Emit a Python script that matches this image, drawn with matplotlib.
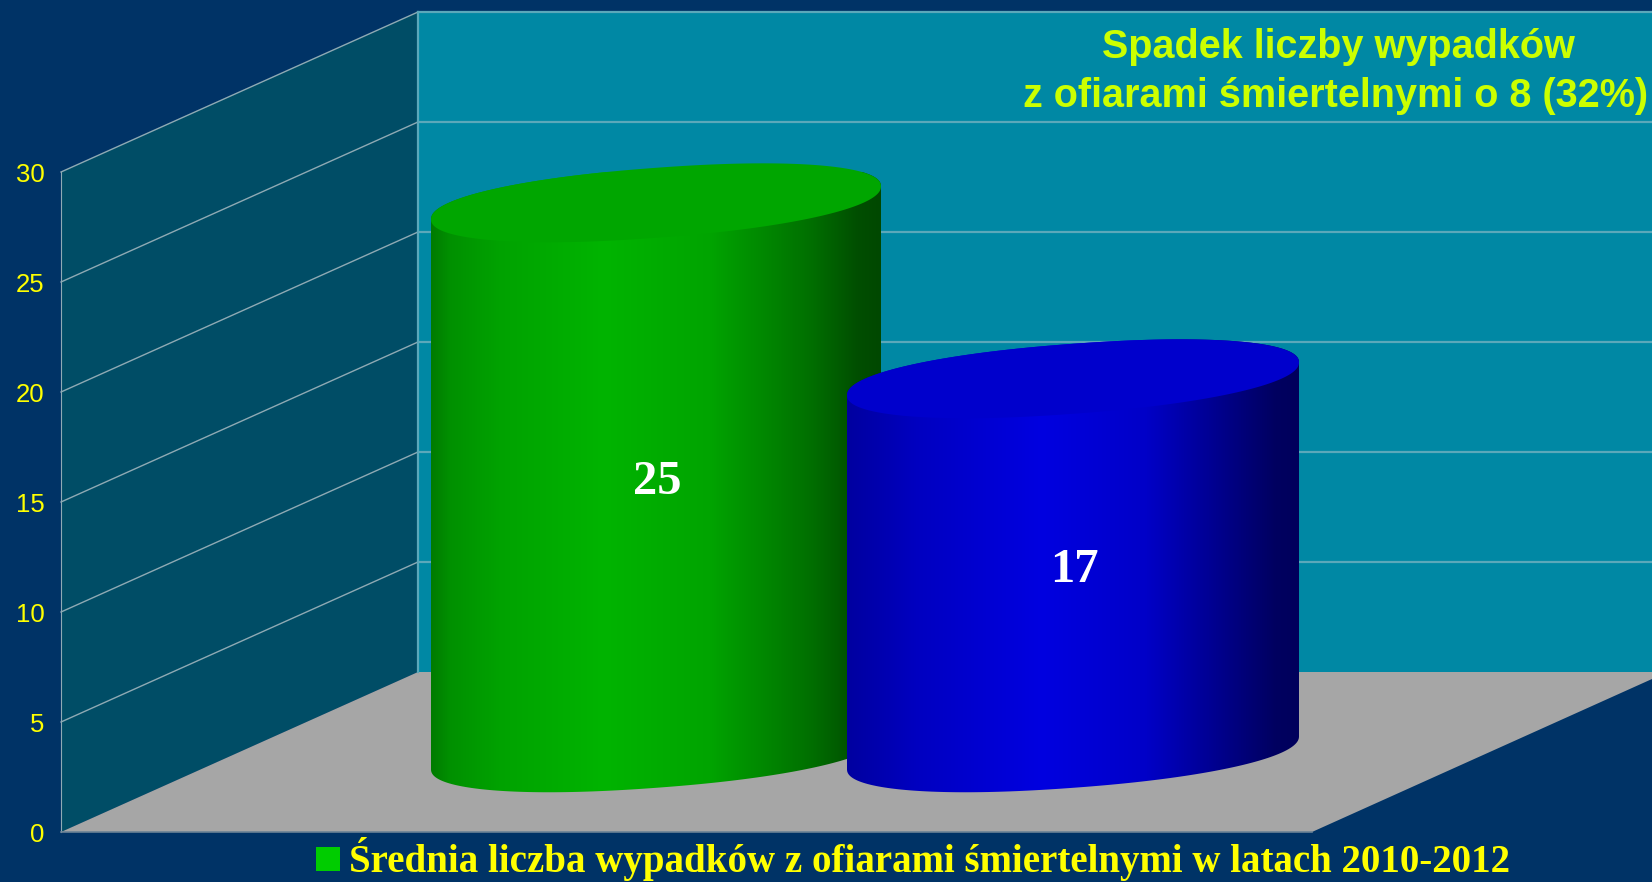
import numpy as np
from matplotlib import pyplot as plt
from matplotlib.colors import LinearSegmentedColormap
from matplotlib.patches import Polygon, Rectangle

# chart values
categories = ['2010-2012', '2013']
values = [25, 17]
y_ticks = [0, 5, 10, 15, 20, 25, 30]
legend_text = 'Średnia liczba wypadków z ofiarami śmiertelnymi w latach 2010-2012'
title_lines = ['Spadek liczby wypadków', 'z ofiarami śmiertelnymi o 8 (32%)']

WIDTH, HEIGHT = 1652, 882
LEFT, BOTTOM, TOP = 61, 832, 172  # wall front edge, in pixels
DEPTH_X = 357                     # pixels the back wall sits to the right
DEPTH_Y = 160 / 22                # same, upwards, in value units
FLOOR_RIGHT = 1312

BG = '#003366'
BACK_WALL = '#0088A4'
SIDE_WALL = '#004D66'
FLOOR = '#A6A6A6'
YELLOW = '#FFFF00'

# x is in pixels (only y is a value scale), one cylinder per category
centers = [656, 1073]
half_width = [225, 226]
base_level = 3.6      # centre of the bottom ellipse, value units
ell_b = 35 / 22
ell_s = 16.5 / 22
ell_power = 0.92      # below 1 gives the fuller ends of the original lids
top_colors = ['#00A600', '#0000CC']
side_colors = [
    ['#007C00', '#009000', '#00A200', '#00B400', '#00A400', '#006E00', '#004E00', '#004800'],
    ['#0000A0', '#0000A8', '#0000C0', '#0000E0', '#0000C8', '#000078', '#000060', '#00005C'],
    ]
side_stops = [
    [0, 0.04, 0.15, 0.385, 0.62, 0.85, 0.95, 1],
    [0, 0.04, 0.15, 0.43, 0.66, 0.88, 0.95, 1],
    ]

fig = plt.figure(figsize=(WIDTH / 100, HEIGHT / 100), dpi=100, facecolor=BG)
ax = fig.add_axes([
    LEFT / WIDTH, (HEIGHT - BOTTOM) / HEIGHT,
    (WIDTH - LEFT) / WIDTH, (BOTTOM - TOP) / HEIGHT
    ])
ax.patch.set_visible(False)
for spine in ax.spines.values():
    spine.set_visible(False)
ax.set_xlim(LEFT, WIDTH)
ax.set_ylim(0, 30)
ax.set_xticks([])
ax.set_yticks(y_ticks)
ax.tick_params(axis='y', length=0, pad=12, labelcolor=YELLOW, labelsize=18.5)
for label in ax.get_yticklabels():
    label.set_fontfamily('Liberation Sans')

back_x = LEFT + DEPTH_X
ax.add_patch(Polygon(
    [(back_x, DEPTH_Y), (WIDTH, DEPTH_Y), (WIDTH, 30 + DEPTH_Y), (back_x, 30 + DEPTH_Y)],
    fc=BACK_WALL, ec='none', clip_on=False, zorder=1
    ))
ax.add_patch(Polygon(
    [(LEFT, 0), (back_x, DEPTH_Y), (back_x, 30 + DEPTH_Y), (LEFT, 30)],
    fc=SIDE_WALL, ec='none', clip_on=False, zorder=1
    ))
ax.add_patch(Polygon(
    [(LEFT, 0), (back_x, DEPTH_Y), (WIDTH, DEPTH_Y), (WIDTH, DEPTH_Y - 7 / 22), (FLOOR_RIGHT, 0)],
    fc=FLOOR, ec='none', clip_on=False, zorder=1
    ))

# grid
for tick in y_ticks:
    if tick > 0:
        ax.plot([back_x, WIDTH], [tick + DEPTH_Y] * 2, color='#5BA8BA', lw=1.6,
                clip_on=False, zorder=2)
        ax.plot([LEFT, back_x], [tick, tick + DEPTH_Y], color='#8FAAB4', lw=1,
                clip_on=False, zorder=2)
ax.plot([LEFT, LEFT], [0, 30], color='#8FAAB4', lw=0.8, clip_on=False, zorder=2)
ax.plot([back_x, back_x], [DEPTH_Y, 30 + DEPTH_Y], color='#5BA8BA', lw=1.6,
        clip_on=False, zorder=2)
ax.plot([LEFT, FLOOR_RIGHT], [0, 0], color='#6A8296', lw=1.2, clip_on=False, zorder=2)


def ellipse(cx, a, level, t):
    c = np.sign(np.cos(t)) * np.abs(np.cos(t)) ** ell_power
    s = np.sign(np.sin(t)) * np.abs(np.sin(t)) ** ell_power
    return np.column_stack([cx + a * c, level + ell_b * s + ell_s * c])


for i, value in enumerate(values):
    z = 3 + i
    cx, a = centers[i], half_width[i]
    level = base_level + value
    # side: top edge follows the lid (which covers it), then the front rim
    rim = ellipse(cx, a, base_level, np.linspace(0, -np.pi, 120))
    lid = ellipse(cx, a, level, np.linspace(0, 2 * np.pi, 240))
    side = Polygon(
        np.vstack([rim, ellipse(cx, a, level, np.linspace(np.pi, 0, 120))]),
        fc='none', ec='none', transform=ax.transData
        )
    ax.add_patch(side)
    cmap = LinearSegmentedColormap.from_list('side', list(zip(side_stops[i], side_colors[i])))
    image = ax.imshow(
        np.linspace(0, 1, 512)[None, :],
        cmap=cmap,
        extent=(cx - a, cx + a, base_level - 3, level + 3),
        aspect='auto',
        zorder=z,
        )
    image.set_clip_path(side)
    ax.add_patch(Polygon(lid, fc=top_colors[i], ec='none', clip_on=False, zorder=z))
    ax.text(cx + 1, base_level + value / 2 - 0.2, str(value), color='white', fontsize=35,
            fontweight='bold', family='Liberation Serif', ha='center', va='center',
            zorder=z + 1)
ax.set_xlim(LEFT, WIDTH)
ax.set_ylim(0, 30)

# title and legend sit in figure pixels
fig.text(1338 / WIDTH, 1 - 47 / HEIGHT, title_lines[0], color='#CCFF00', fontsize=28.5,
         fontweight='bold', family='Liberation Sans', ha='center', va='center')
fig.text(1336 / WIDTH, 1 - 96 / HEIGHT, title_lines[1], color='#CCFF00', fontsize=28.5,
         fontweight='bold', family='Liberation Sans', ha='center', va='center')
fig.add_artist(Rectangle((316 / WIDTH, 1 - 871 / HEIGHT), 24 / WIDTH, 24 / HEIGHT,
                         fc='#00CC00', ec='none', transform=fig.transFigure))
fig.text(349 / WIDTH, 1 - 872 / HEIGHT, legend_text, color=YELLOW, fontsize=28,
         fontweight='bold', family='Liberation Serif', ha='left', va='baseline')

fig.savefig('out.png', dpi=100, facecolor=BG)
